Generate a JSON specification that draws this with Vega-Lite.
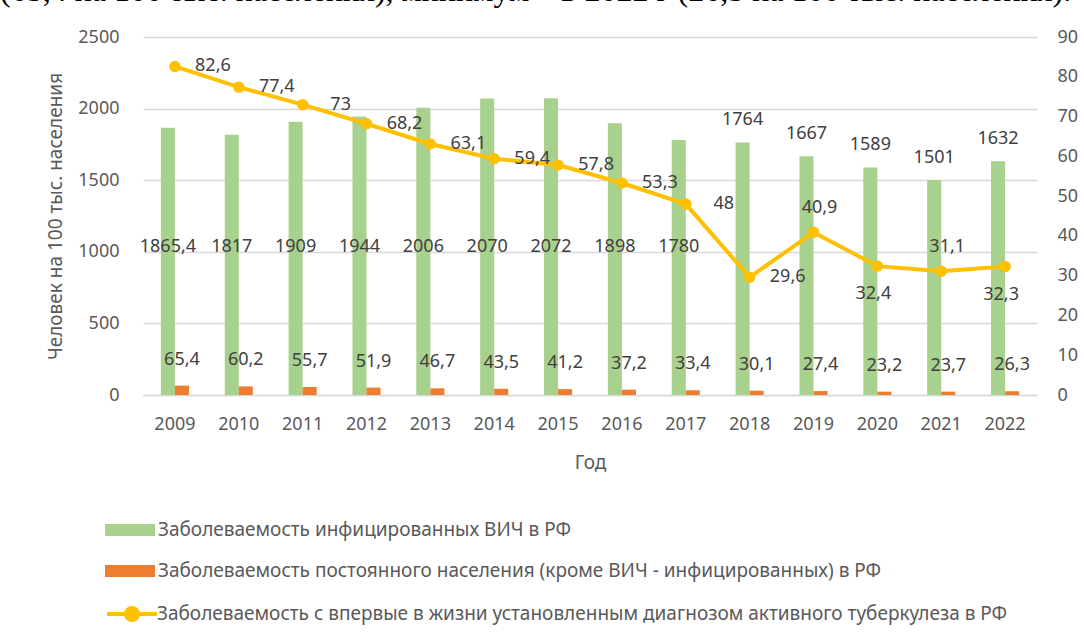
{
  "$schema": "https://vega.github.io/schema/vega-lite/v6.json",
  "width": 894,
  "height": 358,
  "autosize": {"type": "none"},
  "padding": {"left": 143, "top": 37, "right": 47, "bottom": 247},
  "background": "white",
  "config": {
    "font": "Noto Sans",
    "view": {"stroke": null},
    "locale": {"number": {"decimal": ",", "thousands": " ", "grouping": [3], "currency": ["", ""]}},
    "axis": {"labelColor": "#595959", "titleColor": "#595959", "labelFontSize": 18, "titleFontSize": 19, "titleFontWeight": "normal", "ticks": false, "labelFont": "Noto Sans", "titleFont": "Noto Sans"},
    "legend": {"labelColor": "#595959", "labelFontSize": 19, "labelFont": "Noto Sans", "padding": 0, "labelLimit": 1200}
  },
  "title": {
    "text": "(65,4 на 100 тыс. населения), минимум – в 2022 г (26,3 на 100 тыс. населения).",
    "anchor": "start",
    "frame": "group",
    "dx": -143,
    "offset": -5,
    "baseline": "alphabetic",
    "font": "Liberation Serif",
    "fontSize": 32,
    "fontWeight": "normal",
    "color": "#000000"
  },
  "data": {
    "values": [
      {"year": 2009, "hiv": 1865.4, "pop": 65.4, "tb": 82.6},
      {"year": 2010, "hiv": 1817, "pop": 60.2, "tb": 77.4},
      {"year": 2011, "hiv": 1909, "pop": 55.7, "tb": 73},
      {"year": 2012, "hiv": 1944, "pop": 51.9, "tb": 68.2},
      {"year": 2013, "hiv": 2006, "pop": 46.7, "tb": 63.1},
      {"year": 2014, "hiv": 2070, "pop": 43.5, "tb": 59.4},
      {"year": 2015, "hiv": 2072, "pop": 41.2, "tb": 57.8},
      {"year": 2016, "hiv": 1898, "pop": 37.2, "tb": 53.3},
      {"year": 2017, "hiv": 1780, "pop": 33.4, "tb": 48},
      {"year": 2018, "hiv": 1764, "pop": 30.1, "tb": 29.6},
      {"year": 2019, "hiv": 1667, "pop": 27.4, "tb": 40.9},
      {"year": 2020, "hiv": 1589, "pop": 23.2, "tb": 32.4},
      {"year": 2021, "hiv": 1501, "pop": 23.7, "tb": 31.1},
      {"year": 2022, "hiv": 1632, "pop": 26.3, "tb": 32.3}
    ]
  },
  "encoding": {
    "x": {
      "field": "year", "type": "ordinal",
      "scale": {"paddingInner": 0.56, "paddingOuter": 0.28},
      "axis": {"title": "Год", "labelAngle": 0, "labelPadding": 20, "titlePadding": 20, "domainColor": "#D9D9D9", "domainWidth": 1.5, "grid": false}
    }
  },
  "layer": [
    {
      "transform": [{"fold": ["hiv", "pop"], "as": ["series", "value"]}],
      "encoding": {
        "xOffset": {"field": "series", "type": "nominal", "scale": {"domain": ["hiv", "pop"], "paddingInner": 0, "paddingOuter": 0}}
      },
      "layer": [
        {
          "mark": {"type": "bar"},
          "encoding": {
            "y": {
              "field": "value", "type": "quantitative", "stack": null,
              "scale": {"domain": [0, 2500], "nice": false, "zero": true},
              "axis": {"title": "Человек на 100 тыс. населения", "values": [0, 500, 1000, 1500, 2000, 2500], "format": "d", "labelPadding": 24, "titlePadding": 12, "grid": true, "gridColor": "#D9D9D9", "gridWidth": 1.5, "domain": false}
            },
            "fill": {
              "field": "series", "type": "nominal",
              "scale": {"domain": ["hiv", "pop"], "range": ["#A9D18E", "#ED7D31"]},
              "legend": {
                "title": null, "orient": "none", "legendX": -38, "legendY": 468,
                "symbolType": "M-1,-0.24L1,-0.24L1,0.24L-1,0.24Z", "symbolSize": 2500,
                "symbolStrokeWidth": 0, "rowPadding": 6, "labelOffset": 3,
                "labelExpr": "datum.value === 'hiv' ? 'Заболеваемость инфицированных ВИЧ в РФ' : 'Заболеваемость постоянного населения (кроме ВИЧ - инфицированных) в РФ'"
              }
            }
          }
        },
        {
          "transform": [{"filter": "datum.series === 'hiv' && datum.year <= 2017"}],
          "mark": {"type": "text", "fontSize": 18, "color": "#404040", "baseline": "middle"},
          "encoding": {
            "y": {"datum": 1035, "type": "quantitative", "scale": {"domain": [0, 2500], "nice": false}},
            "text": {"field": "value", "type": "quantitative", "format": "~r"}
          }
        },
        {
          "transform": [{"filter": "datum.series === 'hiv' && datum.year >= 2018"}],
          "mark": {"type": "text", "fontSize": 18, "color": "#404040", "baseline": "middle", "dy": -22},
          "encoding": {
            "y": {"field": "value", "type": "quantitative", "scale": {"domain": [0, 2500], "nice": false}},
            "text": {"field": "value", "type": "quantitative", "format": "~r"}
          }
        },
        {
          "transform": [{"filter": "datum.series === 'pop'"}],
          "mark": {"type": "text", "fontSize": 18, "color": "#404040", "baseline": "middle", "dy": -26},
          "encoding": {
            "y": {"field": "value", "type": "quantitative", "scale": {"domain": [0, 2500], "nice": false}},
            "text": {"field": "value", "type": "quantitative", "format": "~r"}
          }
        }
      ]
    },
    {
      "encoding": {
        "y": {
          "field": "tb", "type": "quantitative",
          "scale": {"domain": [0, 90], "nice": false},
          "axis": {"orient": "right", "title": null, "values": [0, 10, 20, 30, 40, 50, 60, 70, 80, 90], "format": "d", "labelPadding": 20, "grid": false, "domain": false}
        }
      },
      "layer": [
        {
          "mark": {"type": "line", "strokeWidth": 4},
          "encoding": {
            "stroke": {
              "datum": "tb", "type": "nominal",
              "scale": {"domain": ["tb"], "range": ["#FFC000"]},
              "legend": {
                "title": null, "orient": "none", "legendX": -38, "legendY": 550,
                "symbolType": "M-1,0L1,0M0.24,0A0.24,0.24 0 1 1 -0.24,0A0.24,0.24 0 1 1 0.24,0Z",
                "symbolSize": 2500, "symbolFillColor": "#FFC000", "symbolStrokeWidth": 4, "labelOffset": -2,
                "labelExpr": "'Заболеваемость с впервые в жизни установленным диагнозом активного туберкулеза в РФ'"
              }
            }
          }
        },
        {
          "mark": {"type": "point", "filled": true, "size": 130, "color": "#FFC000", "opacity": 1}
        },
        {
          "transform": [{"filter": "datum.year <= 2018"}],
          "mark": {"type": "text", "fontSize": 18, "color": "#404040", "baseline": "middle", "dx": 38, "dy": 0},
          "encoding": {"text": {"field": "tb", "type": "quantitative", "format": "~r"}}
        },
        {
          "transform": [{"filter": "datum.year === 2019 || datum.year === 2021"}],
          "mark": {"type": "text", "fontSize": 18, "color": "#404040", "baseline": "middle", "dx": 6, "dy": -24},
          "encoding": {"text": {"field": "tb", "type": "quantitative", "format": "~r"}}
        },
        {
          "transform": [{"filter": "datum.year === 2020 || datum.year === 2022"}],
          "mark": {"type": "text", "fontSize": 18, "color": "#404040", "baseline": "middle", "dx": -4, "dy": 28},
          "encoding": {"text": {"field": "tb", "type": "quantitative", "format": "~r"}}
        }
      ]
    }
  ],
  "resolve": {"scale": {"y": "independent"}}
}
